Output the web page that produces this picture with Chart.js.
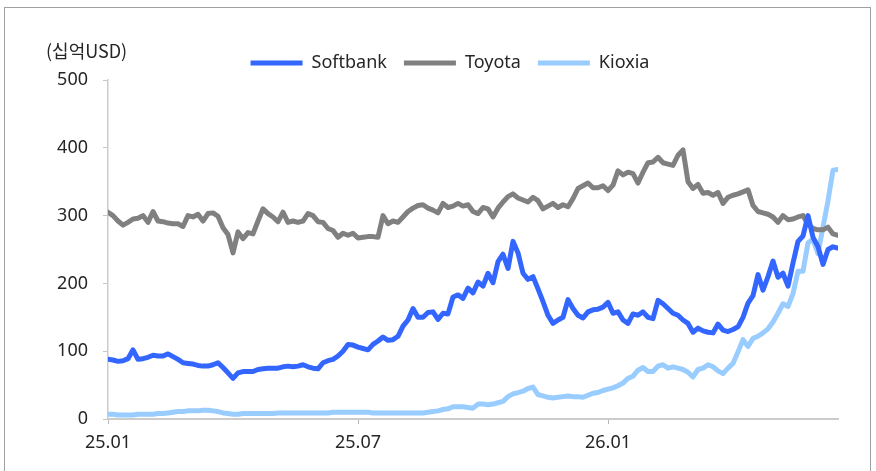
<!DOCTYPE html>
<html>
<head>
<meta charset="utf-8">
<script src="https://cdn.jsdelivr.net/npm/chart.js@4"></script>
<style>
    body { margin: 0; background: #fff; }
    #wrap { position: relative; width: 876px; height: 471px; overflow: hidden; }
    #frame { position: absolute; left: 4px; top: 7px; width: 865px; height: 480px; border: 1.5px solid #a0a0a0; border-bottom: none; }
    #chart { position: absolute; left: 0; top: 0; }
</style>
</head>
<body>
<div id="wrap">
    <div id="frame"></div>
    <canvas id="chart" width="876" height="471"></canvas>
</div>
<script>
// x = half-week steps from 25.01 (index 0) to mid 26 (index 146)
const tickLabels = { 0: '25.01', 50: '25.07', 100: '26.01' };
const unitLabel = '(십억USD)';
const seriesNames = ['Softbank', 'Toyota', 'Kioxia'];

const softbank = [
    88, 87, 85, 86, 89, 102, 88, 89, 91, 94,
    93, 93, 96, 92, 88, 83, 82, 81, 79, 78,
    78, 80, 83, 76, 68, 60, 68, 70, 70, 70,
    73, 74, 75, 75, 75, 77, 78, 77, 78, 80,
    77, 75, 74, 83, 86, 88, 93, 100, 110, 109,
    106, 104, 102, 110, 115, 121, 116, 117, 122, 137,
    146, 163, 150, 150, 157, 158, 147, 156, 155, 180,
    183, 178, 193, 186, 202, 196, 215, 201, 232, 243,
    222, 262, 245, 215, 206, 210, 192, 173, 153, 141,
    146, 150, 176, 163, 153, 149, 158, 161, 162, 165,
    172, 156, 158, 146, 141, 155, 153, 158, 150, 148,
    175, 170, 163, 156, 153, 146, 141, 128, 134, 130,
    128, 127, 140, 131, 129, 132, 136, 150, 171, 182,
    213, 190, 210, 233, 209, 215, 196, 230, 262, 270,
    300, 268, 254, 228, 250, 254, 252
];

const toyota = [
    305, 300, 292, 286, 290, 295, 296, 300, 290, 306,
    292, 291, 289, 288, 288, 284, 300, 298, 302, 292,
    303, 304, 299, 282, 272, 245, 276, 266, 275, 273,
    292, 310, 303, 298, 291, 305, 290, 292, 290, 292,
    303, 300, 291, 290, 281, 278, 268, 274, 271, 274,
    267, 268, 269, 269, 268, 300, 288, 292, 290, 298,
    306, 311, 315, 316, 311, 308, 304, 318, 312, 314,
    318, 314, 316, 306, 303, 312, 310, 298, 311, 320,
    328, 332, 326, 323, 320, 327, 322, 310, 314, 318,
    312, 316, 313, 325, 340, 344, 348, 341, 341, 344,
    337, 345, 366, 360, 364, 362, 348, 364, 378, 379,
    386, 378, 376, 374, 389, 397, 350, 340, 346, 333,
    334, 330, 334, 318, 327, 330, 332, 335, 338, 315,
    306, 304, 302, 298, 290, 300, 294, 295, 298, 300,
    287, 281, 279, 279, 283, 273, 271
];

const kioxia = [
    7, 7, 6, 6, 6, 6, 7, 7, 7, 7,
    8, 8, 9, 10, 11, 11, 12, 12, 12, 13,
    13, 12, 11, 9, 8, 7, 7, 8, 8, 8,
    8, 8, 8, 8, 9, 9, 9, 9, 9, 9,
    9, 9, 9, 9, 9, 10, 10, 10, 10, 10,
    10, 10, 10, 9, 9, 9, 9, 9, 9, 9,
    9, 9, 9, 9, 10, 11, 12, 14, 15, 18,
    18, 18, 17, 16, 22, 22, 21, 22, 24, 26,
    33, 37, 39, 41, 45, 47, 36, 34, 32, 31,
    32, 33, 34, 33, 33, 32, 35, 38, 39, 42,
    44, 46, 49, 53, 60, 63, 72, 76, 70, 70,
    78, 80, 75, 77, 75, 73, 69, 62, 73, 75,
    80, 77, 71, 67, 75, 82, 99, 117, 107, 119,
    122, 127, 133, 143, 156, 170, 166, 185, 218, 218,
    260, 265, 244, 283, 322, 367, 368
];

const colors = ['#3366ff', '#808080', '#99ccff'];
const fontFamily = "'Noto Sans', 'Noto Sans CJK KR', sans-serif";

function toPoints(arr) {
    return arr.map((v, i) => ({ x: i, y: v }));
}

// unit text above the y axis
const unitPlugin = {
    id: 'unitLabel',
    afterDraw(chart) {
        const ctx = chart.ctx;
        const area = chart.chartArea;
        ctx.save();
        ctx.font = "18px 'Noto Sans CJK KR', 'Noto Sans', sans-serif";
        ctx.fillStyle = '#262626';
        ctx.textBaseline = 'middle';
        ctx.textAlign = 'left';
        ctx.fillText(unitLabel, area.left - 62, area.top - 29);
        ctx.restore();
    }
};

// legend sits a bit right of the canvas centre
const legendShift = {
    id: 'legendShift',
    afterLayout(chart) {
        chart.legend.left += 16;
        chart.legend.right += 16;
    }
};

const ctx = document.getElementById('chart');
const chart = new Chart(ctx, {
    type: 'line',
    data: {
        datasets: [softbank, toyota, kioxia].map((arr, k) => ({
            label: seriesNames[k],
            data: toPoints(arr),
            borderColor: colors[k],
            backgroundColor: colors[k],
            borderWidth: 5,
            borderCapStyle: 'round',
            borderJoinStyle: 'round',
            pointRadius: 0,
            tension: 0,
            fill: false
        }))
    },
    options: {
        responsive: false,
        animation: false,
        layout: { padding: { left: 30, right: 38, top: 37, bottom: 0 } },
        plugins: {
            legend: {
                position: 'top',
                maxHeight: 43,
                labels: {
                    usePointStyle: true,
                    pointStyle: 'line',
                    pointStyleWidth: 52,
                    boxHeight: 5,
                    padding: 17,
                    color: '#262626',
                    font: { family: fontFamily, size: 18 }
                }
            },
            tooltip: { enabled: false }
        },
        scales: {
            x: {
                type: 'linear',
                min: 0,
                max: 146,
                afterBuildTicks: axis => {
                    axis.ticks = Object.keys(tickLabels).map(v => ({ value: Number(v) }));
                },
                afterFit: scale => { scale.height = 52; },
                ticks: {
                    callback: v => tickLabels[v] || '',
                    maxRotation: 0,
                    padding: 8,
                    color: '#262626',
                    font: { family: fontFamily, size: 18 }
                },
                grid: { drawOnChartArea: false, drawTicks: true, tickLength: 5, color: '#b8b8b8' },
                border: { display: true, color: '#cccccc', width: 2 }
            },
            y: {
                min: 0,
                max: 500,
                afterFit: scale => { scale.width = 78; },
                ticks: {
                    stepSize: 100,
                    padding: 15,
                    color: '#262626',
                    font: { family: fontFamily, size: 18 }
                },
                grid: { drawOnChartArea: false, drawTicks: true, tickLength: 5, color: '#c8c8c8' },
                border: { display: true, color: '#cccccc', width: 1.5 }
            }
        }
    },
    plugins: [unitPlugin, legendShift]
});
</script>
</body>
</html>
